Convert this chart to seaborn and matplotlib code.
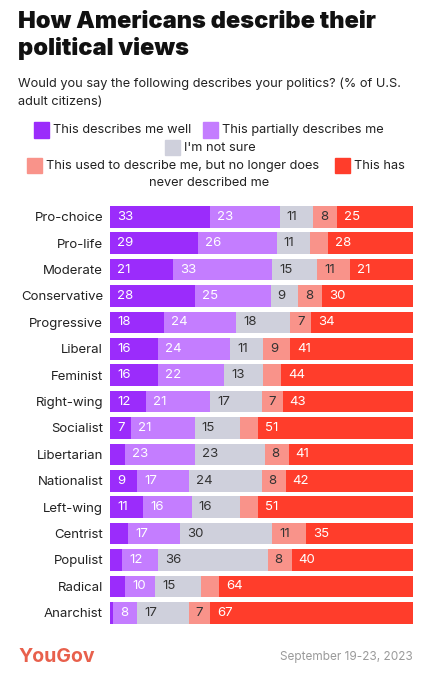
import numpy as np
import pandas as pd
import matplotlib
matplotlib.use("Agg")
import matplotlib.pyplot as plt
from matplotlib.patches import Rectangle
import seaborn as sns

categories = ["Pro-choice", "Pro-life", "Moderate", "Conservative", "Progressive",
              "Liberal", "Feminist", "Right-wing", "Socialist", "Libertarian",
              "Nationalist", "Left-wing", "Centrist", "Populist", "Radical", "Anarchist"]
describes_well = [33, 29, 21, 28, 18, 16, 16, 12, 7, 5, 9, 11, 6, 4, 5, 1]
partially = [23, 26, 33, 25, 24, 24, 22, 21, 21, 23, 17, 16, 17, 12, 10, 8]
not_sure = [11, 11, 15, 9, 18, 11, 13, 17, 15, 23, 24, 16, 30, 36, 15, 17]
used_to = [8, 6, 11, 8, 7, 9, 6, 7, 6, 8, 8, 6, 11, 8, 6, 7]
never = [25, 28, 21, 30, 34, 41, 44, 43, 51, 41, 42, 51, 35, 40, 64, 67]

series_names = ["This describes me well", "This partially describes me", "I'm not sure",
                "This used to describe me, but no longer does", "This has never described me"]
series_values = [describes_well, partially, not_sure, used_to, never]
colors = ["#9b2cfb", "#c47dff", "#cfd0dc", "#f9938a", "#ff3d2b"]
text_colors = ["white", "white", "#333333", "#333333", "white"]

sns.set_theme(style="white")
plt.rcParams["font.family"] = ["Inter", "DejaVu Sans"]

vals = np.array(series_values, dtype=float)  # (5, n)
totals = vals.sum(axis=0)
shares = vals / totals * 100
cum = np.cumsum(shares, axis=0)

fig = plt.figure(figsize=(4.32, 6.8), dpi=100)
ax = fig.add_axes([110/432, 1-626/680, 303/432, (626-203.5)/680])

# draw from the last (full) stack down so each earlier series overlays
for i in range(4, -1, -1):
    df = pd.DataFrame({"cat": categories, "cum": cum[i]})
    sns.barplot(data=df, x="cum", y="cat", orient="h", color=colors[i],
                width=0.82, saturation=1, ax=ax, order=categories, linewidth=0)

for i in range(5):
    for j, cat in enumerate(categories):
        v = series_values[i][j]
        if v >= 7:
            left = cum[i][j] - shares[i][j]
            ax.annotate(f"{v}", xy=(left, j), xytext=(5, 0), textcoords="offset points",
                        va="center", ha="left", fontsize=9.5, color=text_colors[i])

ax.set_xlim(0, 100)
ax.set_xlabel("")
ax.set_ylabel("")
ax.set_xticks([])
ax.tick_params(axis="y", length=0, pad=5, labelsize=9.5, labelcolor="#222222")
for s in ax.spines.values():
    s.set_visible(False)

# Title and subtitle
fig.text(18/432, 1-27.5/680, "How Americans describe their", fontsize=17, fontweight=900,
         color="#111111", ha="left", va="baseline")
fig.text(18/432, 1-55.5/680, "political views", fontsize=17, fontweight=900,
         color="#111111", ha="left", va="baseline")
fig.text(18/432, 1-87.5/680, "Would you say the following describes your politics? (% of U.S.",
         fontsize=9.2, color="#222222", ha="left", va="baseline")
fig.text(18/432, 1-105/680, "adult citizens)",
         fontsize=9.2, color="#222222", ha="left", va="baseline")

# Legend (manual, centered rows)
leg_items = [
    (34.3, 130, 0), (203.3, 130, 1),
    (165, 147.7, 2),
    (27.3, 165.7, 3), (335, 165.7, 4),
]
for x, y, k in leg_items:
    fig.patches.append(Rectangle((x/432, 1-(y+7.5)/680), 15/432, 15/680,
                                 transform=fig.transFigure, color=colors[k]))
    label = series_names[k] if k != 4 else "This has"
    fig.text((x+19)/432, 1-y/680, label, fontsize=9.2, color="#222222",
             ha="left", va="center")
fig.text(149/432, 1-182.7/680, "never described me", fontsize=9.2, color="#222222",
         ha="left", va="center")

# Footer
fig.text(18/432, 1-657/680, "YouGov", fontsize=14, fontweight="bold", color="#e8604c",
         ha="left", va="center")
fig.text(413/432, 1-657/680, "September 19-23, 2023", fontsize=8.5, color="#9a9a9a",
         ha="right", va="center")

fig.savefig("out.png", dpi=100, facecolor="white")
